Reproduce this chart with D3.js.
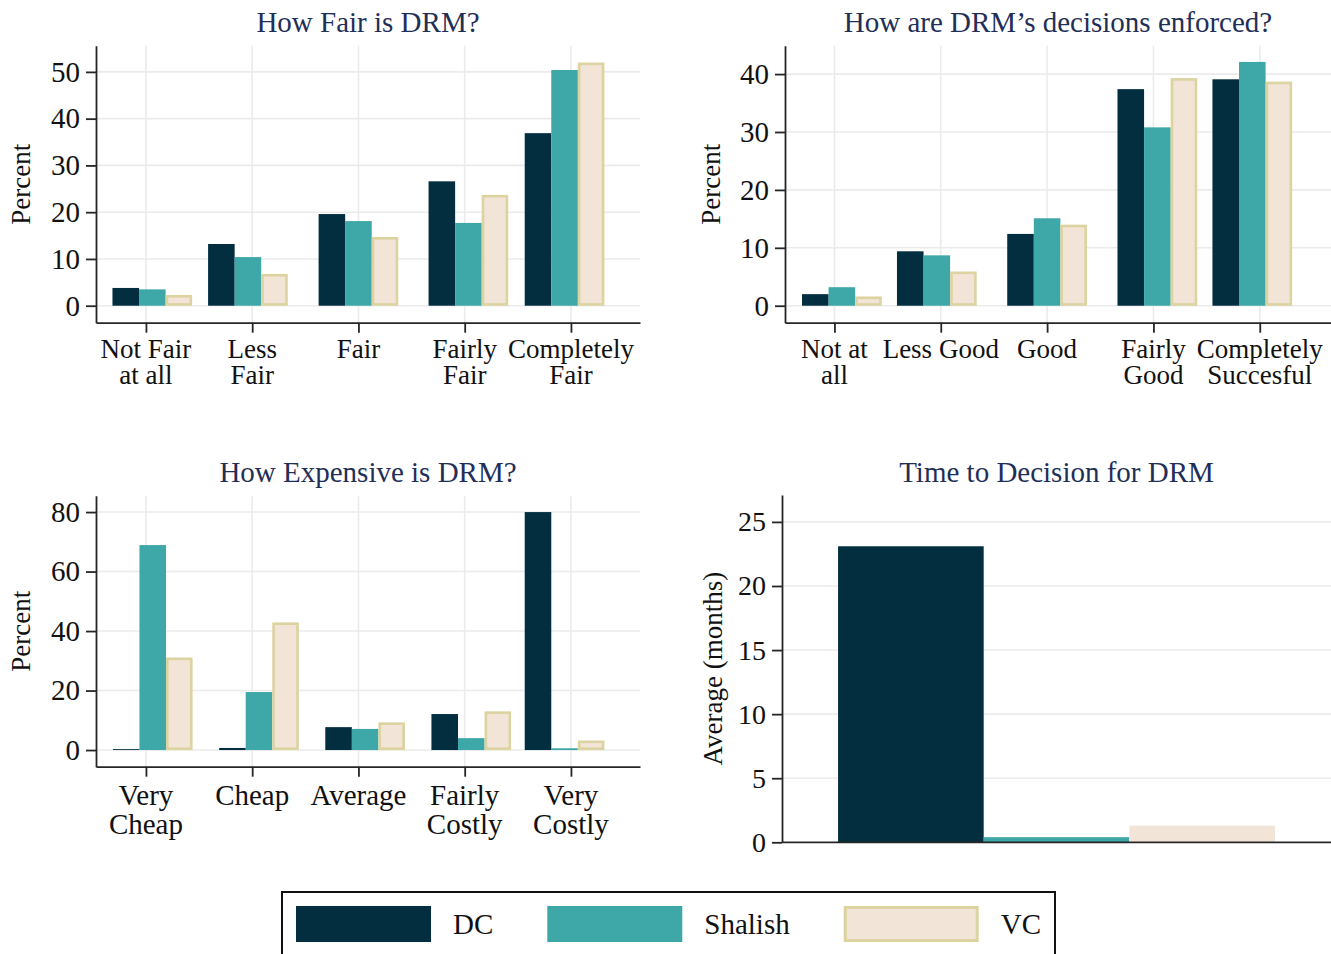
<!DOCTYPE html>
<html>
<head>
<meta charset="utf-8">
<script src="https://cdn.jsdelivr.net/npm/d3@7"></script>
<style>
  html, body { margin: 0; padding: 0; background: #fff; }
  svg { display: block; font-family: "Liberation Serif", "Times New Roman", serif; }
</style>
</head>
<body>
<script>
// ---- dados ----
const series = ['DC', 'Shalish', 'VC'];

const fairCats = [['Not Fair', 'at all'], ['Less', 'Fair'], ['Fair'], ['Fairly', 'Fair'], ['Completely', 'Fair']];
const fairPos = [1.06, 1.96, 3.0, 4.035, 4.94];
const fairDC = [3.8, 13.2, 19.6, 26.6, 36.9];
const fairShalish = [3.5, 10.4, 18.1, 17.7, 50.4];
const fairVC = [2.3, 6.8, 14.7, 23.7, 52.0];

const enforceCats = [['Not at', 'all'], ['Less Good'], ['Good'], ['Fairly', 'Good'], ['Completely', 'Succesful']];
const enforcePos = [1.07, 1.963, 3.0, 4.037, 4.93];
const enforceDC = [2.0, 9.4, 12.4, 37.4, 39.1];
const enforceShalish = [3.2, 8.7, 15.1, 30.8, 42.1];
const enforceVC = [1.6, 5.9, 14.0, 39.3, 38.7];

const costCats = [['Very', 'Cheap'], ['Cheap'], ['Average'], ['Fairly', 'Costly'], ['Very', 'Costly']];
const costPos = [1.064, 2.064, 3.063, 4.062, 4.94];
const costDC = [0.3, 0.7, 7.7, 12.1, 80.0];
const costShalish = [68.9, 19.5, 7.1, 4.0, 0.6];
const costVC = [31.1, 42.9, 9.3, 13.0, 3.2];

const timeMonths = [23.1, 0.4, 1.3];

// ---- estilo ----
const COLOR = { DC: '#032e40', Shalish: '#3ea7a7', VC: '#f2e4d6' };
const VC_STROKE = '#dcd3a1';
const GRID = '#ebebeb';
const AXIS = '#262626';
const TITLE = '#1f2f58';
const BAR_W = 0.25; // largura da barra em unidades de categoria

const W = 1331, H = 954;
const svg = d3.select('body').append('svg').attr('width', W).attr('height', H);

function drawTitle(text, cx, y) {
  svg.append('text').attr('x', cx).attr('y', y).attr('text-anchor', 'middle')
    .attr('fill', TITLE).attr('font-size', 29).text(text);
}

function drawYLabel(text, x, cy, size) {
  svg.append('text').attr('transform', `translate(${x},${cy}) rotate(-90)`)
    .attr('text-anchor', 'middle').attr('fill', '#111').attr('font-size', size).text(text);
}

function yAxis(g, y, ticks, size) {
  g.call(d3.axisLeft(y).tickValues(ticks).tickSize(10).tickSizeOuter(0).tickPadding(6));
  g.select('.domain').attr('stroke', AXIS).attr('stroke-width', 1.8);
  g.selectAll('.tick line').attr('stroke', AXIS).attr('stroke-width', 1.8);
  g.selectAll('.tick text').attr('font-size', size).attr('fill', '#111')
    .attr('font-family', '"Liberation Serif", "Times New Roman", serif');
}

// painel de barras agrupadas (3 series por categoria)
function barPanel(cfg) {
  const { left, right, top, bottom } = cfg;
  const x = d3.scaleLinear().domain(cfg.xDomain).range([left, right]);
  const y = d3.scaleLinear().domain(cfg.yDomain).range([bottom, top]);
  const cats = [1, 2, 3, 4, 5];

  const grid = svg.append('g');
  grid.selectAll('line.h').data(cfg.yTicks).join('line')
    .attr('x1', left).attr('x2', right).attr('y1', (d) => y(d)).attr('y2', (d) => y(d))
    .attr('stroke', GRID).attr('stroke-width', 1.6);
  grid.selectAll('line.v').data(cats).join('line')
    .attr('x1', (d) => x(d)).attr('x2', (d) => x(d)).attr('y1', top).attr('y2', bottom)
    .attr('stroke', GRID).attr('stroke-width', 1.6);

  const bars = svg.append('g');
  const bw = x(BAR_W) - x(0);
  cfg.values.forEach((vals, s) => {
    const name = series[s];
    const outlined = name === 'VC';
    const inset = outlined ? 1.3 : 0;
    bars.selectAll(null).data(vals).join('rect')
      .attr('x', (d, i) => x(cfg.pos[i] + (s - 1) * BAR_W) - bw / 2 + inset)
      .attr('width', bw - inset * 2)
      .attr('y', (d) => y(d) + inset)
      .attr('height', (d) => Math.max(0.8, y(0) - y(d) - inset * 2))
      .attr('fill', COLOR[name])
      .attr('stroke', outlined ? VC_STROKE : null)
      .attr('stroke-width', outlined ? 2.6 : null);
  });

  yAxis(svg.append('g').attr('transform', `translate(${left},0)`), y, cfg.yTicks, 29);

  const xg = svg.append('g').attr('transform', `translate(0,${bottom})`);
  xg.call(d3.axisBottom(x).tickValues(cats).tickSize(10).tickSizeOuter(0).tickFormat(''));
  xg.select('.domain').attr('stroke', AXIS).attr('stroke-width', 1.8);
  xg.selectAll('.tick line').attr('stroke', AXIS).attr('stroke-width', 1.8);

  const lab = svg.append('g').attr('font-size', cfg.labelSize).attr('fill', '#111').attr('text-anchor', 'middle');
  cfg.cats.forEach((lines, i) => {
    const t = lab.append('text').attr('x', x(i + 1)).attr('y', bottom + cfg.labelOffset);
    lines.forEach((ln, k) => t.append('tspan').attr('x', x(i + 1)).attr('dy', k === 0 ? 0 : cfg.lineH).text(ln));
  });

  drawTitle(cfg.title, (left + right) / 2, cfg.titleY);
  drawYLabel(cfg.yLabel, cfg.yLabelX, (top + bottom) / 2, 27);
}

barPanel({
  title: 'How Fair is DRM?', titleY: 32, yLabel: 'Percent', yLabelX: 30,
  left: 96, right: 640, top: 45.7, bottom: 322.7,
  xDomain: [0.53, 5.65], yDomain: [-3.63, 55.6], yTicks: [0, 10, 20, 30, 40, 50],
  cats: fairCats, pos: fairPos, values: [fairDC, fairShalish, fairVC],
  labelSize: 27, labelOffset: 35, lineH: 26,
});

barPanel({
  title: 'How are DRM\u2019s decisions enforced?', titleY: 32, yLabel: 'Percent', yLabelX: 720,
  left: 785, right: 1331, top: 45.7, bottom: 322.7,
  xDomain: [0.535, 5.67], yDomain: [-2.93, 44.9], yTicks: [0, 10, 20, 30, 40],
  cats: enforceCats, pos: enforcePos, values: [enforceDC, enforceShalish, enforceVC],
  labelSize: 27, labelOffset: 35, lineH: 26,
});

barPanel({
  title: 'How Expensive is DRM?', titleY: 481.7, yLabel: 'Percent', yLabelX: 30,
  left: 96, right: 640, top: 495.7, bottom: 766.7,
  xDomain: [0.53, 5.65], yDomain: [-5.6, 85.5], yTicks: [0, 20, 40, 60, 80],
  cats: costCats, pos: costPos, values: [costDC, costShalish, costVC],
  labelSize: 29, labelOffset: 38.5, lineH: 28.5,
});

// ---- painel 4: tempo ate a decisao ----
(function () {
  const left = 782, right = 1331, top = 495, bottom = 842.3;
  const x = d3.scaleBand().domain(series).range([left, right]).paddingInner(0).paddingOuter(0.385);
  const y = d3.scaleLinear().domain([0, 27.1]).range([bottom, top]);
  const ticks = [0, 5, 10, 15, 20, 25];

  svg.append('g').selectAll('line').data(ticks.slice(1)).join('line')
    .attr('x1', left).attr('x2', right).attr('y1', (d) => y(d)).attr('y2', (d) => y(d))
    .attr('stroke', GRID).attr('stroke-width', 1.6);

  svg.append('g').selectAll('rect').data(timeMonths).join('rect')
    .attr('x', (d, i) => x(series[i]))
    .attr('width', x.bandwidth())
    .attr('y', (d) => y(d))
    .attr('height', (d) => y(0) - y(d))
    .attr('fill', (d, i) => COLOR[series[i]]);

  yAxis(svg.append('g').attr('transform', `translate(${left},0)`), y, ticks, 28);
  svg.append('line').attr('x1', left).attr('x2', right).attr('y1', y(0)).attr('y2', y(0))
    .attr('stroke', AXIS).attr('stroke-width', 1.8);

  drawTitle('Time to Decision for DRM', (left + right) / 2, 481.7);
  drawYLabel('Average (months)', 722, (top + bottom) / 2, 27);
})();

// ---- legenda ----
(function () {
  const box = svg.append('g');
  box.append('rect').attr('x', 282).attr('y', 892).attr('width', 773).attr('height', 90)
    .attr('fill', '#fff').attr('stroke', '#111').attr('stroke-width', 2);
  let cx = 296;
  series.forEach((name) => {
    const outlined = name === 'VC';
    const inset = outlined ? 1.5 : 0;
    box.append('rect').attr('x', cx + inset).attr('y', 906 + inset)
      .attr('width', 135 - inset * 2).attr('height', 36 - inset * 2)
      .attr('fill', COLOR[name])
      .attr('stroke', outlined ? VC_STROKE : null).attr('stroke-width', outlined ? 3 : null);
    const t = box.append('text').attr('x', cx + 157).attr('y', 934)
      .attr('font-size', 29).attr('fill', '#111').text(name);
    cx += 157 + t.node().getComputedTextLength() + 54;
  });
})();
</script>
</body>
</html>
